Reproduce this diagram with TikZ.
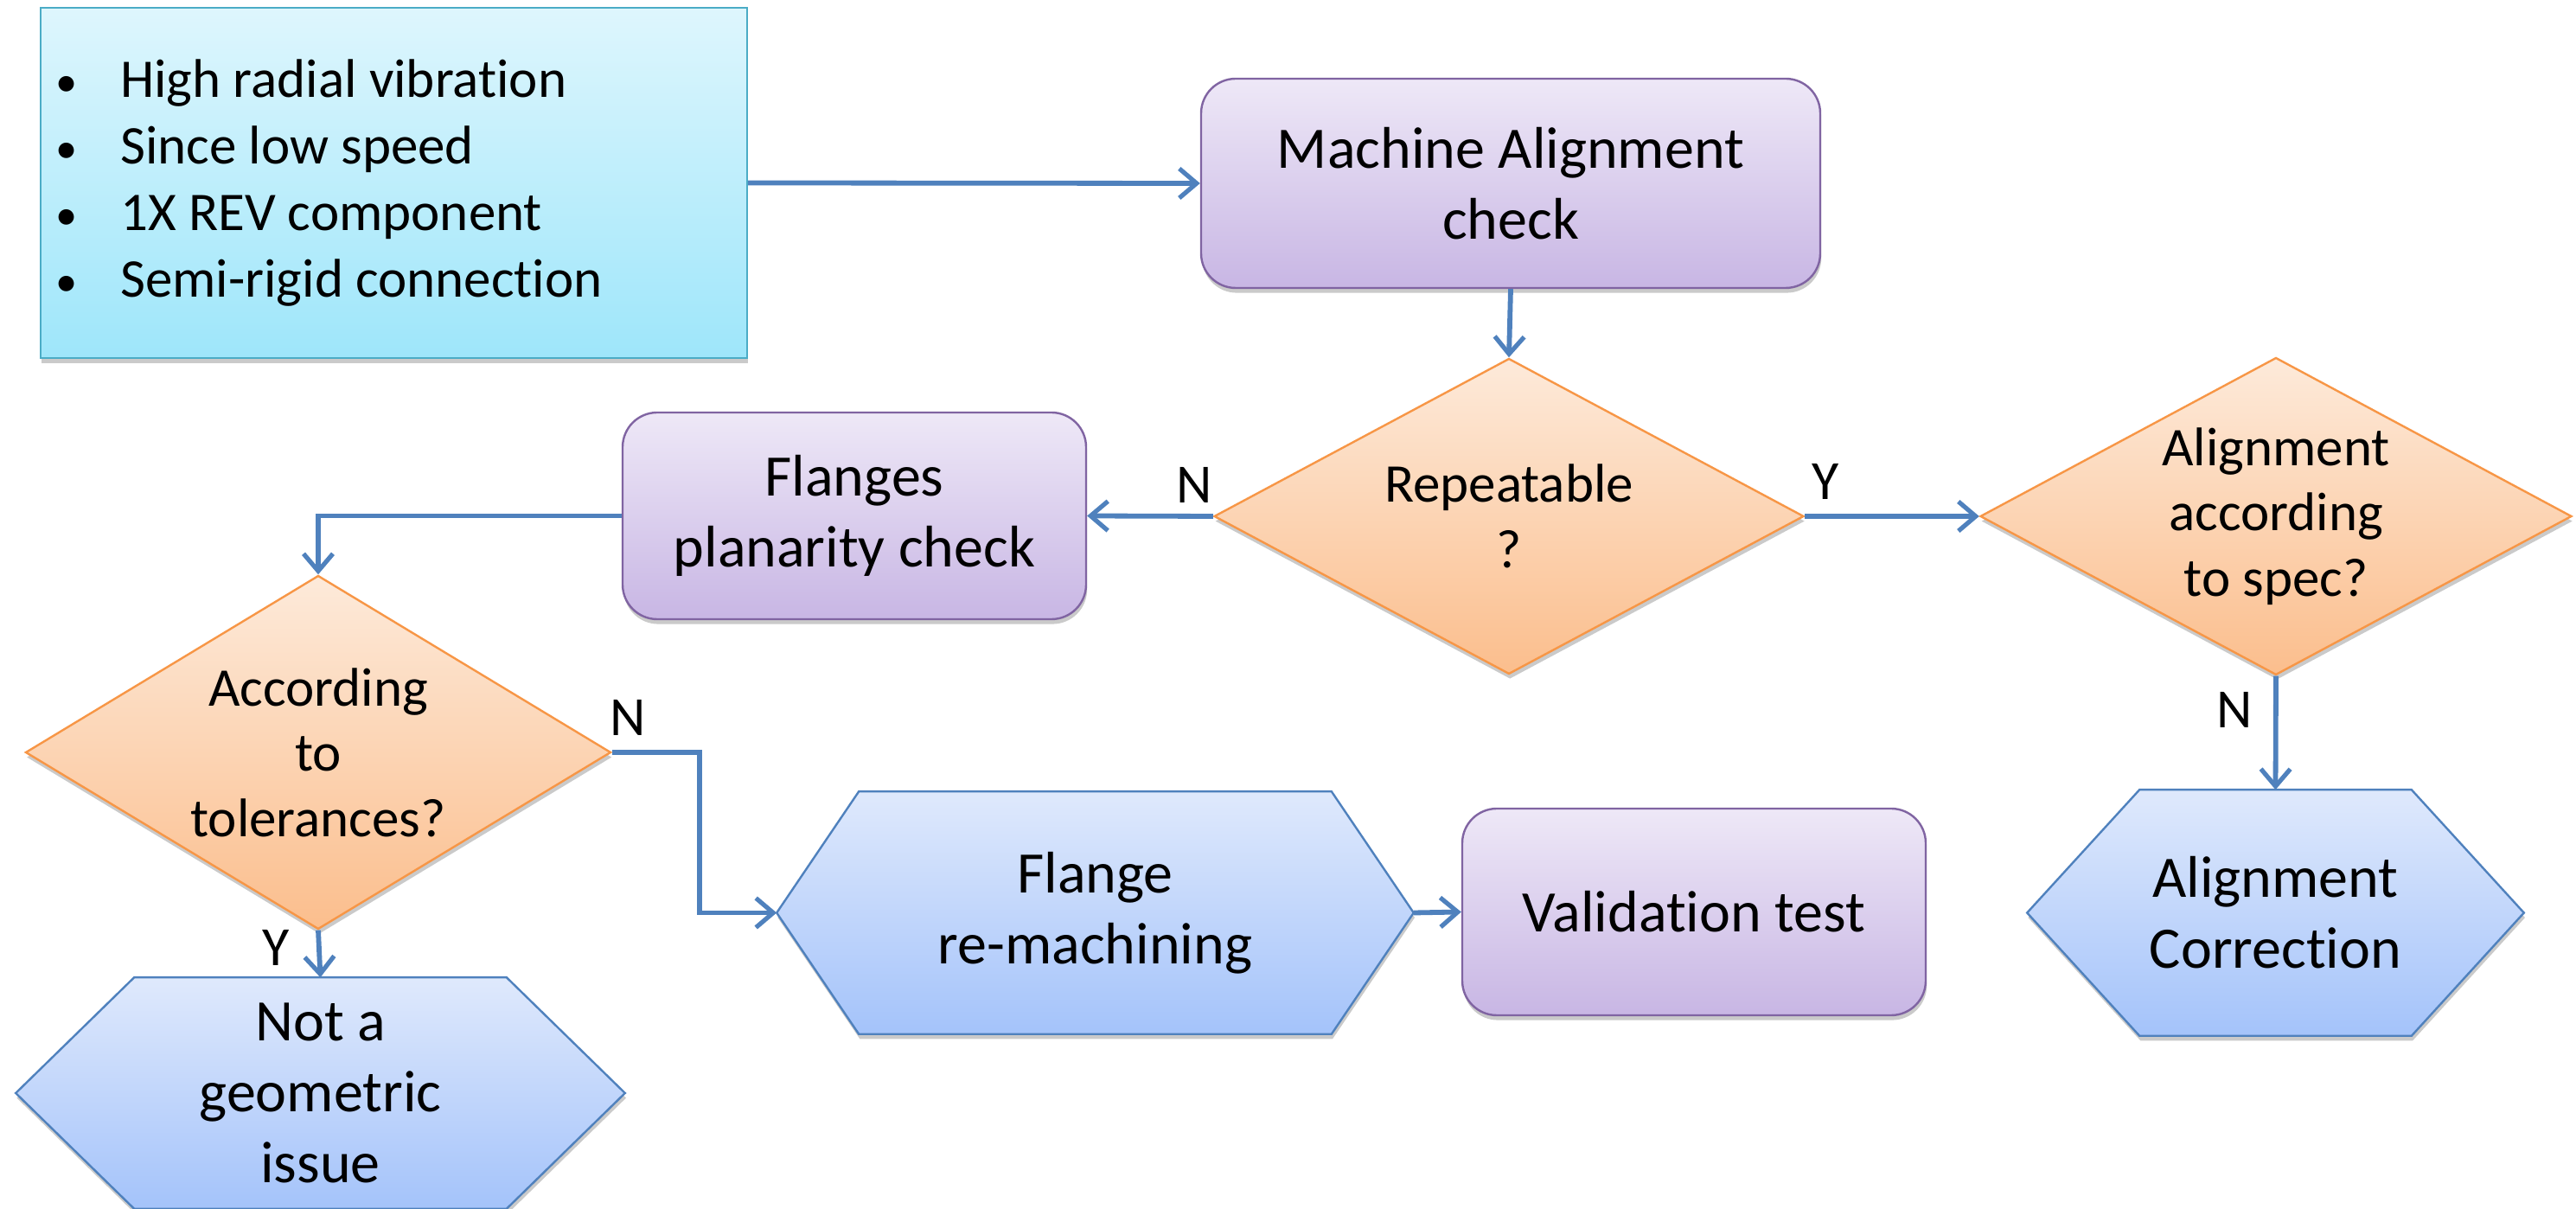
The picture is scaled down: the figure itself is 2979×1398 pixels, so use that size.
\documentclass[tikz,border=0pt]{standalone}
\usepackage{fontspec}
\setmainfont{Carlito}[Ligatures={TeX,NoCommon}]
\usetikzlibrary{shapes.geometric,arrows.meta,shadows,backgrounds}
\definecolor{procdraw}{HTML}{8064A2}
\definecolor{proctop}{RGB}{238,232,247}
\definecolor{procbot}{RGB}{200,182,228}
\definecolor{decdraw}{HTML}{F79646}
\definecolor{dectop}{RGB}{253,234,218}
\definecolor{decbot}{RGB}{251,190,141}
\definecolor{hexdraw}{HTML}{4F81BD}
\definecolor{hextop}{RGB}{223,233,252}
\definecolor{hexbot}{RGB}{164,195,250}
\definecolor{indraw}{HTML}{4BACC6}
\definecolor{intop}{RGB}{222,246,253}
\definecolor{inbot}{RGB}{158,230,250}
\definecolor{arrowc}{HTML}{4F81BD}
\tikzset{
  shad/.style={drop shadow={shadow xshift=0.3pt,shadow yshift=-1.4pt,opacity=0.35,fill=black!60}},
  bigtext/.style={font=\fontsize{17}{20.5}\selectfont},
  dectext/.style={font=\fontsize{15.75}{18.9}\selectfont},
  procbox/.style={rectangle,rounded corners=10pt,draw=procdraw,line width=0.6pt,
    top color=proctop,bottom color=procbot,shad,bigtext,align=center},
  decbox/.style={diamond,draw=decdraw,line width=0.6pt,inner sep=0pt,
    top color=dectop,bottom color=decbot,shad},
  hexnode/.style={rectangle,inner sep=0pt,bigtext,align=center},
  hexfill/.style={draw=hexdraw,line width=0.6pt,top color=hextop,bottom color=hexbot,shad},
  conn/.style={draw=arrowc,line width=1.45pt,-{Straight Barb[length=5pt,width=8.5pt,line width=1.3pt]}},
  yn/.style={font=\fontsize{16}{19}\selectfont,inner sep=0pt},
}
\newcommand{\hexpath}[2]{%
  \draw[hexfill] (#1.west) -- ([xshift=#2]#1.north west) -- ([xshift=-#2]#1.north east)
    -- (#1.east) -- ([xshift=-#2]#1.south east) -- ([xshift=#2]#1.south west) -- cycle;}
\newcommand{\bul}{\makebox[18.75pt][l]{\raisebox{0.3pt}{\scalebox{0.8}{\textbullet}}}}
\begin{document}
\begin{tikzpicture}[x=0.25pt,y=-0.25pt]
\useasboundingbox (0,0) rectangle (2979,1398);

% input box
\node[rectangle,draw=indraw,line width=0.6pt,top color=intop,bottom color=inbot,shad,
  minimum width=204.25pt,minimum height=101.25pt] (input) at (455.5,211.5) {};
\node[anchor=west,inner sep=0pt,align=left,font=\fontsize{15.75}{19.25}\selectfont]
  (inputtext) at ([xshift=4.4pt]input.west)
  {\bul High radial vibration\\
   \bul Since low speed\\
   \bul 1X REV component\\
   \bul Semi-rigid connection};

% process boxes
\node[procbox,minimum width=179pt,minimum height=60.5pt] (ma) at (1747,212)
  {Machine Alignment\\check};
\node[procbox,minimum width=134pt,minimum height=59.75pt] (fl) at (988,596.5)
  {Flanges\\planarity check};
\node[procbox,minimum width=134pt,minimum height=59.75pt] (val) at (1959,1054.5)
  {Validation test};

% decisions
\node[decbox,minimum width=170.5pt,minimum height=91.25pt,
  label={[dectext,align=center]center:Repeatable\\?}] (rep) at (1745,597) {};
\node[decbox,minimum width=171pt,minimum height=91.75pt,
  label={[dectext,align=center]center:Alignment\\according\\to spec?}] (spec) at (2632,597) {};
\node[decbox,minimum width=169.25pt,minimum height=102.25pt,
  label={[dectext,align=center]center:According\\to\\tolerances?}] (acc) at (368,870) {};

% hexagons
\node[hexnode,minimum width=183.75pt,minimum height=69.75pt] (frm) at (1266.5,1055.5)
  {Flange\\re-machining};
\node[hexnode,minimum width=143.25pt,minimum height=70.75pt] (ac) at (2631.5,1055.5)
  {Alignment\\Correction};
\node[hexnode,minimum width=175.75pt,minimum height=66.5pt] (ng) at (370.5,1264)
  {Not a\\geometric\\issue};
\begin{scope}[on background layer]
  \hexpath{frm}{23.75pt}
  \hexpath{ac}{32.5pt}
  \hexpath{ng}{34.25pt}
\end{scope}

% connectors
\draw[conn] (input.east) -- (ma.west);
\draw[conn] (ma.south) -- (rep.north);
\draw[conn] (rep.west) -- (fl.east);
\draw[conn] (rep.east) -- (spec.west);
\draw[conn] (spec.south) -- (ac.north);
\draw[conn] (fl.west) -| (acc.north);
\draw[conn] (acc.east) -- ++(101,0) |- (frm.west);
\draw[conn] (acc.south) -- (ng.north);
\draw[conn] (frm.east) -- (val.west);

% labels
\node[yn] (n1) at (1381,561) {N};
\node[yn] (y1) at (2111,557) {Y};
\node[yn] (n2) at (2584,821) {N};
\node[yn] (n3) at (726,830) {N};
\node[yn] (y2) at (319,1096) {Y};
\end{tikzpicture}
\end{document}
